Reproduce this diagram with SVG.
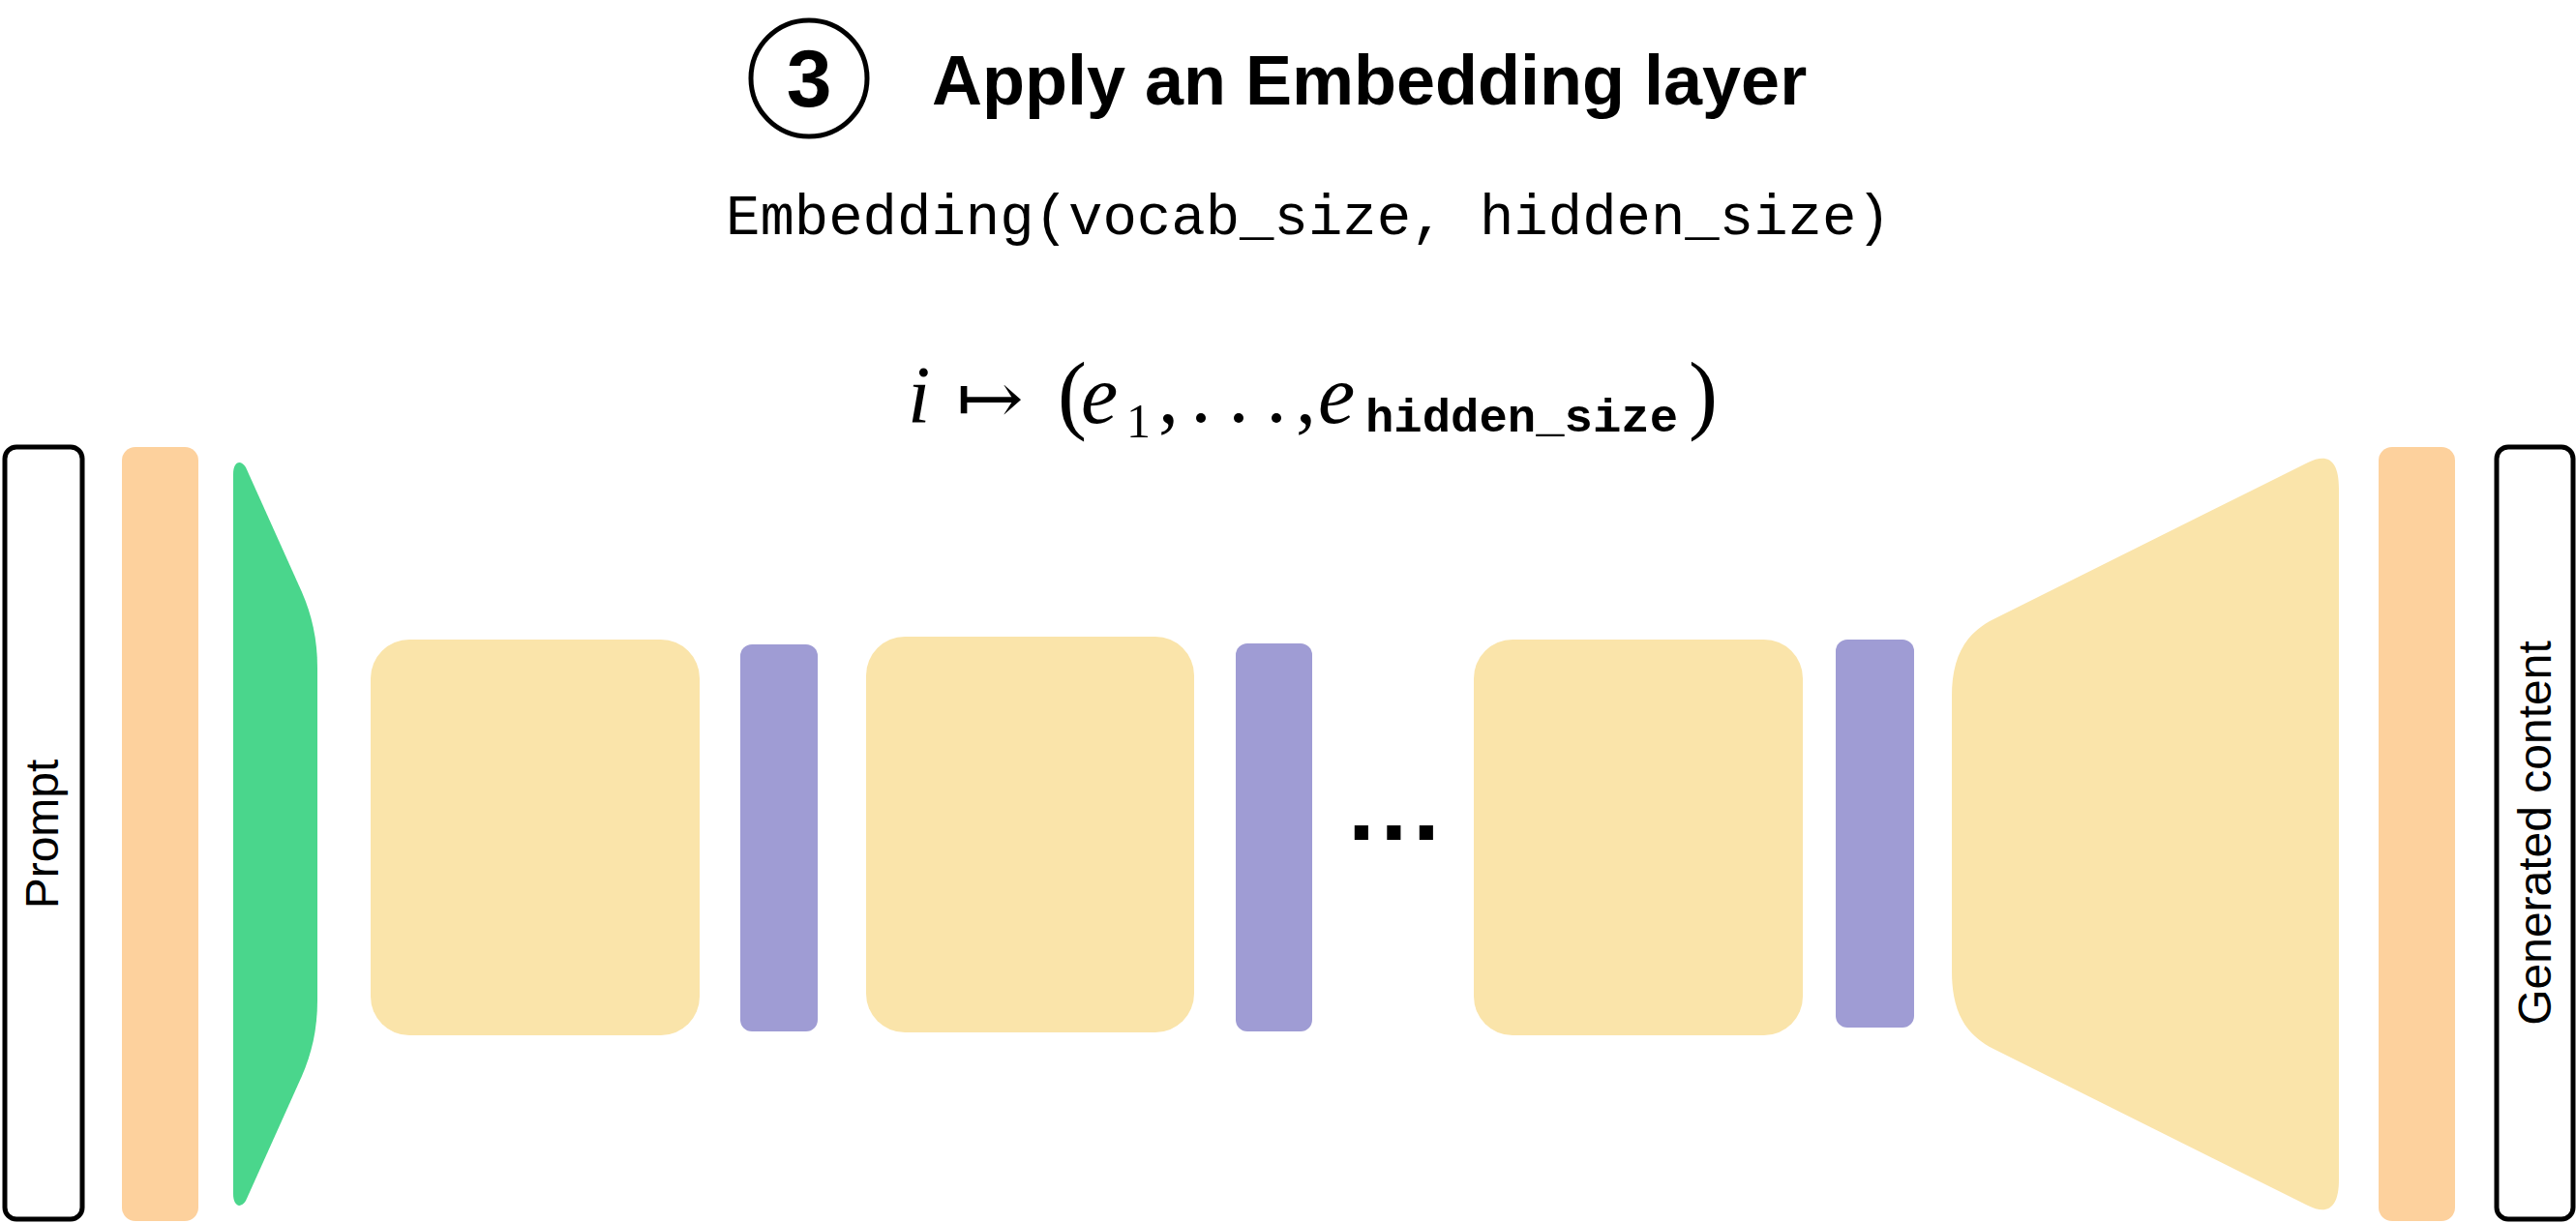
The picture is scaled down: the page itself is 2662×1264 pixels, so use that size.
<svg xmlns="http://www.w3.org/2000/svg" width="2662" height="1264" viewBox="0 0 2662 1264">
<style>
.box{fill:#fff;stroke:#000;stroke-width:5}
.lbl{font-family:"Liberation Sans",Arial,sans-serif;font-size:48px;fill:#000;text-anchor:middle}
.orange{fill:#FDD19D}
.yellow{fill:#FAE4AA}
.green{fill:#4AD68C}
.purple{fill:#9F9CD4}
.title{font-family:"Liberation Sans",Arial,sans-serif;font-weight:bold;fill:#000}
.code{font-family:"Liberation Mono","Courier New",monospace;font-size:59px;fill:#000}
.math{font-family:"Liberation Serif","Times New Roman",serif;fill:#000}
</style>
<rect width="2662" height="1264" fill="#fff"/>
<g id="header">
  <circle cx="836" cy="81" r="60" fill="none" stroke="#000" stroke-width="5"/>
  <text class="title" x="836" y="110" font-size="84" text-anchor="middle">3</text>
  <text class="title" x="963" y="108" font-size="72">Apply an Embedding layer</text>
  <text class="code" x="750" y="242">Embedding(vocab_size, hidden_size)</text>
</g>
<g id="formula">
  <text class="math" y="437" font-size="84"><tspan x="938" font-style="italic">i</tspan></text>
  <text y="437" font-family="'DejaVu Serif','Liberation Serif',serif" font-size="74" x="988" textLength="70" lengthAdjust="spacingAndGlyphs">↦</text>
  <text class="math" x="1093" y="437" font-size="90">(</text>
  <text class="math" x="1117" y="437" font-size="86" font-style="italic">e</text>
  <text class="math" x="1164" y="452" font-size="50">1</text>
  <text class="math" x="1197" y="437" font-size="84">,</text>
  <circle cx="1241" cy="432" r="5" fill="#000"/>
  <circle cx="1280" cy="432" r="5" fill="#000"/>
  <circle cx="1319" cy="432" r="5" fill="#000"/>
  <text class="math" x="1339" y="437" font-size="84">,</text>
  <text class="math" x="1362" y="437" font-size="86" font-style="italic">e</text>
  <text x="1411" y="446" font-family="'Liberation Mono','Courier New',monospace" font-weight="bold" font-size="48" textLength="323" lengthAdjust="spacingAndGlyphs">hidden_size</text>
  <text class="math" x="1745" y="437" font-size="90">)</text>
</g>
<g id="prompt">
  <rect class="box" x="5" y="462" width="80" height="798" rx="12"/>
  <text class="lbl" transform="translate(60,862) rotate(-90)">Prompt</text>
</g>
<g id="tokenizer-in"><rect class="orange" x="126" y="462" width="79" height="800" rx="14"/></g>
<g id="embedding"><path class="green" d="M241,490 C241,478 248,474 254,483 L312,612 C322,635 328,660 328,690 L328,1034 C328,1064 322,1089 312,1112 L254,1241 C248,1250 241,1246 241,1234 Z"/></g>
<g id="block1"><rect class="yellow" x="383" y="661" width="340" height="409" rx="40"/></g>
<g id="norm1"><rect class="purple" x="765" y="666" width="80" height="400" rx="12"/></g>
<g id="block2"><rect class="yellow" x="895" y="658" width="339" height="409" rx="40"/></g>
<g id="norm2"><rect class="purple" x="1277" y="665" width="79" height="401" rx="12"/></g>
<g id="ellipsis"><text class="title" x="1393" y="868" font-size="100" letter-spacing="5.7">...</text></g>
<g id="block3"><rect class="yellow" x="1523" y="661" width="340" height="409" rx="40"/></g>
<g id="norm3"><rect class="purple" x="1897" y="661" width="81" height="401" rx="12"/></g>
<g id="head"><path class="yellow" d="M2017,720 C2017,680 2030,655 2060,640 L2385,478 C2405,468 2417,475 2417,505 L2417,1219 C2417,1249 2405,1256 2385,1246 L2060,1084 C2030,1069 2017,1044 2017,1004 Z"/></g>
<g id="tokenizer-out"><rect class="orange" x="2458" y="462" width="79" height="800" rx="14"/></g>
<g id="generated">
  <rect class="box" x="2580" y="462" width="79" height="798" rx="12"/>
  <text class="lbl" transform="translate(2636,861) rotate(-90)">Generated content</text>
</g>
<g id="connectors"/>
</svg>
